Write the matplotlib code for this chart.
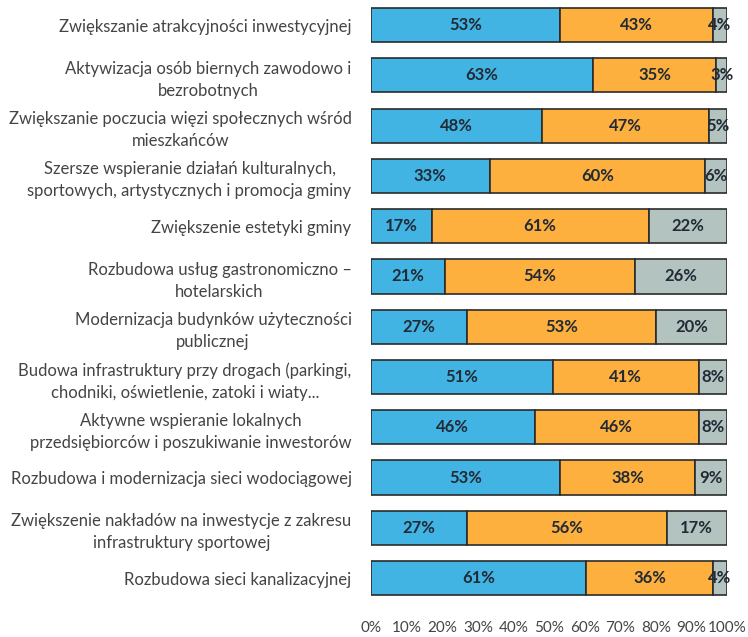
import numpy as np
import matplotlib
matplotlib.use("Agg")
import matplotlib.pyplot as plt

### DATA
categories = [
    "Zwiększanie atrakcyjności inwestycyjnej",
    "Aktywizacja osób biernych zawodowo i\nbezrobotnych",
    "Zwiększanie poczucia więzi społecznych wśród\nmieszkańców",
    "Szersze wspieranie działań kulturalnych,\nsportowych, artystycznych i promocja gminy",
    "Zwiększenie estetyki gminy",
    "Rozbudowa usług gastronomiczno –\nhotelarskich",
    "Modernizacja budynków użyteczności\npublicznej",
    "Budowa infrastruktury przy drogach (parkingi,\nchodniki, oświetlenie, zatoki i wiaty...",
    "Aktywne wspieranie lokalnych\nprzedsiębiorców i poszukiwanie inwestorów",
    "Rozbudowa i modernizacja sieci wodociągowej",
    "Zwiększenie nakładów na inwestycje z zakresu\ninfrastruktury sportowej",
    "Rozbudowa sieci kanalizacyjnej",
]
blue_vals = [53, 63, 48, 33, 17, 21, 27, 51, 46, 53, 27, 61]
orange_vals = [43, 35, 47, 60, 61, 54, 53, 41, 46, 38, 56, 36]
gray_vals = [4, 3, 5, 6, 22, 26, 20, 8, 8, 9, 17, 4]
xticks = [0, 10, 20, 30, 40, 50, 60, 70, 80, 90, 100]

colors = ["#42b4e4", "#fdb03e", "#b3c3bf"]

### PLOT
plt.rcParams['font.family'] = ['Lato', 'DejaVu Sans']
fig = plt.figure(figsize=(7.48, 6.37), dpi=100)
ax = fig.add_axes([0.496, 0.053, 0.476, 0.947])

vals = np.array([blue_vals, orange_vals, gray_vals], dtype=float)
# stacked bars fill to 100% like the source (some rows sum to 101)
widths = vals / vals.sum(axis=0) * 100
y = np.arange(len(categories))
left = np.zeros(len(categories))
for k in range(3):
    ax.barh(y, widths[k], left=left, height=0.68, color=colors[k],
            edgecolor="#2b2b2b", linewidth=1.2)
    for i in range(len(categories)):
        ax.text(left[i] + widths[k][i] / 2, y[i], f"{int(vals[k][i])}%",
                ha="center", va="center", fontsize=12, fontweight="bold",
                color="#222a36")
    left += widths[k]

ax.set_yticks(y)
ax.set_yticklabels(categories, fontsize=12, color="#444444", linespacing=1.45,
                   multialignment="center")
ax.set_xticks(xticks)
ax.set_xticklabels([f"{t}%" for t in xticks], fontsize=11, color="#444444")
ax.tick_params(axis="both", length=0)
ax.tick_params(axis="y", pad=14)
ax.tick_params(axis="x", pad=13)
ax.set_xlim(0, 100)
ax.set_ylim(len(categories) - 0.5, -0.5)
for s in ax.spines.values():
    s.set_visible(False)

fig.savefig("out.png", dpi=100)
